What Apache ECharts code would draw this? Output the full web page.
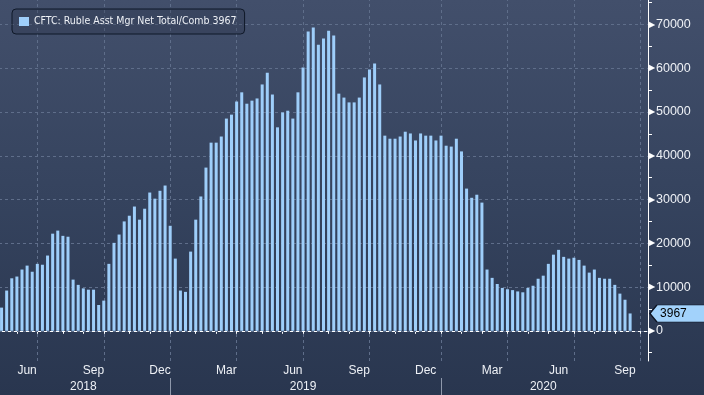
<!DOCTYPE html>
<html><head><meta charset="utf-8">
<script src="https://cdn.jsdelivr.net/npm/echarts@6/dist/echarts.min.js"></script>
<style>
html,body{margin:0;padding:0;width:704px;height:395px;overflow:hidden;
background:linear-gradient(to bottom,#424f6b 0%,#35435e 50%,#29364f 100%);}
#c{width:704px;height:395px;}
</style>
</head><body><div id="c"></div>
<script>
// ---- data ----
const seriesName = 'CFTC: Ruble Asst Mgr Net Total/Comb 3967';
const firstWeek = [2018, 4, 15];          // 2018-05-15, weekly (Tuesdays)
const padWeeks = 3;                       // empty weeks to the right edge
const values = [
  5300, 9200, 12000, 12400, 14000, 14900, 13500, 15300, 15100, 17200,
  22200, 22900, 21700, 21500, 11700, 10500, 9700, 9400, 9400, 5900,
  6900, 15300, 20100, 22000, 25000, 26300, 28400, 25400, 27900, 31600,
  30200, 32000, 33200, 24000, 16500, 9200, 8900, 18100, 25400, 30700,
  37300, 43000, 43000, 44400, 48500, 49400, 52400, 54500, 51900, 52600,
  53100, 56300, 59000, 54000, 46500, 49900, 50300, 48500, 54500, 60200,
  68400, 69300, 65400, 66800, 68600, 67500, 54200, 53300, 52200, 52200,
  53300, 57900, 59700, 61100, 56300, 44600, 43900, 43900, 44400, 45500,
  45100, 43500, 45100, 44600, 44600, 43500, 44600, 42300, 42100, 43900,
  41000, 32500, 30400, 31100, 29300, 14000, 12100, 10700, 9800, 9500,
  9300, 9000, 8800, 9800, 10300, 11900, 12600, 15300, 17400, 18500,
  16900, 16500, 16700, 16200, 14900, 13300, 14000, 12100, 11900, 11900,
  10500, 8500, 7100, 3967
];
const monthNames = ['Jan','Feb','Mar','Apr','May','Jun','Jul','Aug','Sep','Oct','Nov','Dec'];
const labelMonths = [2, 5, 8, 11];        // Mar Jun Sep Dec
const gridMonths = [0, 3, 6, 9];          // quarter starts
const yTickValues = [-5000,0,5000,10000,15000,20000,25000,30000,35000,40000,45000,50000,55000,60000,65000,70000,75000];
const yLabelValues = [0,10000,20000,30000,40000,50000,60000,70000];

// ---- categories (weekly dates) ----
const dates = [];
const t0 = Date.UTC(firstWeek[0], firstWeek[1], firstWeek[2]);
for (let i = 0; i < values.length + padWeeks; i++) {
  dates.push(new Date(t0 + i * 7 * 86400000).toISOString().slice(0, 10));
}
const mon = d => +d.slice(5, 7) - 1;
const yr = d => +d.slice(0, 4);
const monthStart = dates.map((d, i) => i > 0 && mon(d) !== mon(dates[i - 1]));
const yearStart = dates.map((d, i) => i > 0 && yr(d) !== yr(dates[i - 1]));

const mStarts = []; monthStart.forEach((s, i) => { if (s) mStarts.push(i); });
const monthLabelIdx = {};
for (let k = 0; k < mStarts.length - 1; k++) {
  const s = mStarts[k], e = mStarts[k + 1];
  if (labelMonths.includes(mon(dates[s]))) monthLabelIdx[Math.floor((s + e) / 2)] = monthNames[mon(dates[s])];
}
const yBounds = [0]; yearStart.forEach((s, i) => { if (s) yBounds.push(i); }); yBounds.push(dates.length);
const yearLabelIdx = {};
for (let k = 0; k < yBounds.length - 1; k++) {
  yearLabelIdx[Math.floor((yBounds[k] + yBounds[k + 1]) / 2)] = String(yr(dates[yBounds[k]]));
}
const gridX = dates.filter((d, i) => monthStart[i] && gridMonths.includes(mon(d)));
const barData = values.concat(new Array(padWeeks).fill(null));
const lastVal = values[values.length - 1];

const dash = { type: [3, 3], color: '#5f6e8a', width: 1 };
const chart = echarts.init(document.getElementById('c'), null, { renderer: 'canvas' });
chart.setOption({
  animation: false,
  backgroundColor: 'transparent',
  textStyle: { fontFamily: 'Liberation Sans' },
  grid: { left: -1, right: 56, top: 0, bottom: 34, containLabel: false, outerBoundsMode: 'none' },
  legend: {
    left: 12, top: 9, icon: 'rect', itemWidth: 10, itemHeight: 9, itemGap: 5,
    padding: [7, 8, 7, 7], borderColor: '#0f1828', borderWidth: 1, borderRadius: 4,
    backgroundColor: 'rgba(35,45,65,0.25)',
    textStyle: { color: '#eef1f6', fontSize: 10.5, fontFamily: 'DejaVu Sans Condensed' },
    data: [seriesName]
  },
  xAxis: [{
    type: 'category', data: dates, boundaryGap: true,
    axisLine: { show: true, lineStyle: { color: '#ffffff', width: 1 } },
    axisTick: { show: true, alignWithLabel: true, length: 3, interval: (i) => monthStart[i], lineStyle: { color: '#ffffff' } },
    axisLabel: { interval: (i) => i in monthLabelIdx, formatter: (v, i) => monthLabelIdx[i] || '', color: '#eef1f6', fontSize: 12, margin: 4, fontFamily: 'Liberation Sans' },
    splitLine: { show: false }
  }, {
    type: 'category', data: dates, boundaryGap: true, position: 'bottom', offset: 17,
    axisLine: { show: false },
    axisTick: { show: true, alignWithLabel: true, length: 18, interval: (i) => yearStart[i], lineStyle: { color: '#8e98ab' } },
    axisLabel: { interval: (i) => i in yearLabelIdx, formatter: (v, i) => yearLabelIdx[i] || '', color: '#eef1f6', fontSize: 12, margin: 3, fontFamily: 'Liberation Sans' },
    splitLine: { show: false }
  }],
  yAxis: {
    type: 'value', position: 'right', min: -6900, max: 75600,
    axisLine: { show: true, lineStyle: { color: '#ffffff', width: 1 } },
    axisTick: { show: true, length: 4, customValues: yTickValues, lineStyle: { color: '#ffffff' } },
    axisLabel: {
      customValues: yLabelValues, margin: 1,
      formatter: v => '{t|▶}{v|' + v + '}',
      rich: {
        t: { color: '#ffffff', fontSize: 8, padding: [0, 1, 0, 0] },
        v: { color: '#eef1f6', fontSize: 12.5, fontFamily: 'Liberation Sans' }
      }
    },
    splitLine: { show: false }
  },
  series: [{
    type: 'line', name: 'grid', data: [], z: 1, silent: true, legendHoverLink: false,
    markLine: {
      z: 1, silent: true, symbol: ['none', 'none'], label: { show: false }, animation: false,
      lineStyle: dash,
      data: gridX.map(d => ({ xAxis: d })).concat(yLabelValues.map(v => ({ yAxis: v })))
    }
  }, {
    type: 'bar', name: seriesName, data: barData, barWidth: 3, z: 3,
    itemStyle: { color: '#9ecefa' },
    markPoint: {
      z: 6, silent: true, animation: false,
      symbol: 'path://M0,8 L7,0 L55,0 L55,16 L7,16 Z', symbolKeepAspect: false,
      symbolSize: [55, 17], symbolOffset: [32, 0],
      itemStyle: { color: '#a2d2fb', borderColor: '#0b1220', borderWidth: 1 },
      label: { show: true, position: 'inside', color: '#000000', fontSize: 12, offset: [-4, 0], fontFamily: 'Liberation Sans', formatter: String(lastVal) },
      data: [{ coord: [dates[dates.length - 1], lastVal] }]
    }
  }]
});
</script>
</body></html>
